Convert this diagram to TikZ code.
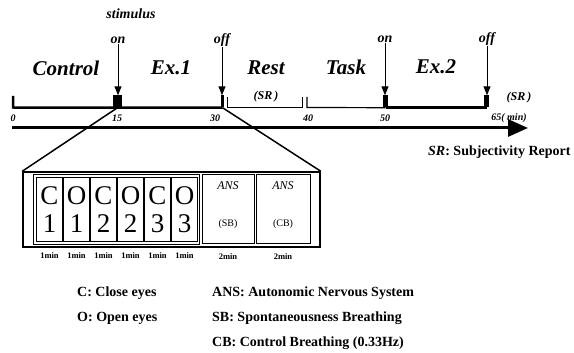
\documentclass[tikz,border=0pt]{standalone}
\usepackage{fontspec}
\setmainfont{Liberation Serif}
\usetikzlibrary{positioning,arrows.meta}

\begin{document}
\begin{tikzpicture}[
x=1pt, y=-1pt,
period/.style={
	font=\fontsize{21}{21}\selectfont\bfseries\itshape,
	inner sep=0pt
},
stimtxt/.style={
	font=\fontsize{14}{14}\selectfont\bfseries\itshape,
	inner sep=0pt
},
minute/.style={
	font=\fontsize{10}{10}\selectfont\bfseries\itshape,
	inner sep=0pt
},
srtxt/.style={
	font=\fontsize{12}{12}\selectfont\bfseries\itshape,
	inner sep=0pt
},
tickblk/.style={
	rectangle,
	fill=black,
	inner sep=0pt,
	minimum height=12pt
},
cell/.style={
	rectangle,
	draw,
	line width=0.8pt,
	align=center,
	inner sep=0pt,
	minimum width=26pt,
	minimum height=64pt,
	font=\fontsize{27}{28}\selectfont
},
ansbox/.style={
	rectangle,
	draw,
	line width=1pt,
	inner sep=0pt,
	minimum height=68pt
},
dur/.style={font=\fontsize{8.5}{8.5}\selectfont\bfseries, inner sep=0pt},
legend/.style={font=\fontsize{14}{14}\selectfont\bfseries, anchor=west, inner sep=0pt},
stimarrow/.style={-{Triangle[length=9pt,width=7pt]}, line width=1pt},
axis/.style={-{Triangle[length=20pt,width=17pt]}, line width=3pt}
]

\useasboundingbox (0,0) rectangle (574,353);

\node[stimtxt] (stim) at (131,14) {stimulus};
\node[stimtxt] (on1) at (118,40) {on};
\node[stimtxt] (off1) at (222,40) {off};
\node[stimtxt] (on2) at (385,39) {on};
\node[stimtxt] (off2) at (487,39) {off};

\node[period] (ctrl) at (66,68) {Control};
\node[period] (ex1) at (171,68) {Ex.1};
\node[period] (rest) at (266,68) {Rest};
\node[period] (task) at (346,67) {Task};
\node[period] (ex2) at (436,67) {Ex.2};

\node[tickblk, minimum width=9pt] (b15) at (117.5,101.5) {};
\node[tickblk, minimum width=3.5pt] (b30) at (222.5,101.5) {};
\node[tickblk, minimum width=5pt] (b50) at (385.5,101.5) {};
\node[tickblk, minimum width=5pt] (b65) at (486.5,101.5) {};

\coordinate (t0top) at (13,96);
\coordinate (t0) at (13,107.5);
\coordinate (r0) at (227,97);
\coordinate (r1) at (302,97);
\coordinate (r2) at (307,97);

\draw[line width=2.5pt] (t0top) -- (t0) -- (b30.south);
\draw[line width=1pt] (r0) -- (r0 |- t0) -- (r1 |- t0) -- (r1);
\draw[line width=1.2pt] (r2) -- (r2 |- t0) -- (b50.south);
\draw[line width=2.5pt] (b50.south) -- (b65.south);

\draw[stimarrow] (on1.south) -- (on1.south |- b15.north);
\draw[stimarrow] (off1.south) -- (off1.south |- b30.north);
\draw[stimarrow] (on2.south) -- (on2.south |- b50.north);
\draw[stimarrow] (off2.south) -- (off2.south |- b65.north);

\node[srtxt] (sr1) at (266,97) {(SR\,)};
\node[srtxt] (sr2) at (519,98) {(SR\,)};

\node[minute] (m0) at (13,118) {0};
\node[minute] (m15) at (117,118) {15};
\node[minute] (m30) at (215,118) {30};
\node[minute] (m40) at (308,118) {40};
\node[minute] (m50) at (385,118) {50};
\node[minute] (m65) at (509,118) {65( min)};

\coordinate (a0) at (12,128);
\coordinate (a1) at (528,128);
\draw[axis] (a0) -- (a1);

\node[legend] (srkey) at (428,152) {\textit{SR}: Subjectivity Report};

\node[draw, line width=1.5pt, inner sep=0pt, minimum width=297pt, minimum height=75pt] (frame) at (171.5,209.5) {};
\node[draw, line width=1.2pt, inner sep=0pt, minimum width=166pt, minimum height=70pt] (cgroup) at (116.5,209.5) {};

\draw[line width=1.5pt] (b15.south) -- (frame.north west);
\draw[line width=1.5pt] (b30.south) -- (frame.north east);

\foreach \n/\t/\d [count=\i] in {c1/C/1, o1/O/1, c2/C/2, o2/O/2, c3/C/3, o3/O/3} {
	\node[cell] (\n) at (22.5+27*\i,209.5) {\t\\\d};
	\node[dur, below=11pt of \n] (d\n) {1min};
}

\node[ansbox, minimum width=52pt] (sb) at (228,209) {};
\node[ansbox, minimum width=54pt] (cb) at (283,209) {};
\node[font=\fontsize{12}{12}\selectfont\itshape, inner sep=0pt, below=7pt of sb.north] (sbans) {ANS};
\node[font=\fontsize{12}{12}\selectfont\itshape, inner sep=0pt, below=7pt of cb.north] (cbans) {ANS};
\node[font=\fontsize{10}{10}\selectfont, inner sep=0pt, above=15pt of sb.south] (sbtxt) {(SB)};
\node[font=\fontsize{10}{10}\selectfont, inner sep=0pt, above=15pt of cb.south] (cbtxt) {(CB)};
\node[dur, below=9.5pt of sb] (dsb) {2min};
\node[dur, below=9.5pt of cb] (dcb) {2min};

\node[legend] (kc) at (77,293) {C: Close eyes};
\node[legend] (ko) at (77,318) {O: Open eyes};
\node[legend] (kans) at (212,293) {ANS: Autonomic Nervous System};
\node[legend] (ksb) at (212,318) {SB: Spontaneousness Breathing};
\node[legend] (kcb) at (212,343) {CB: Control Breathing (0.33Hz)};

\end{tikzpicture}
\end{document}
